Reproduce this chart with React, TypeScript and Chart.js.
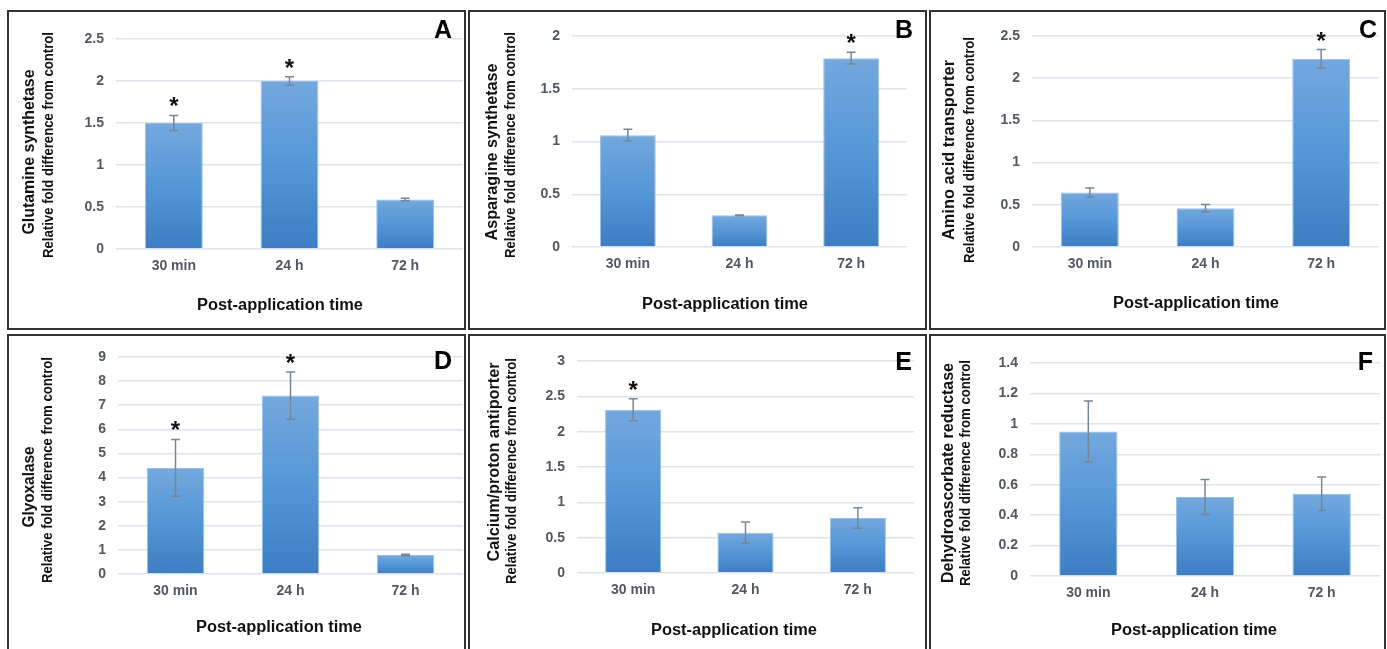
import React, { useEffect, useRef } from 'react';
import { Chart, registerables } from 'chart.js';

Chart.register(...registerables);

const FONT = '"Liberation Sans", Arial, Helvetica, sans-serif';

// ---------- data ----------
const timePoints = ['30 min', '24 h', '72 h'];

const glutamineValues = [1.5, 2.0, 0.59];
const glutamineErrors = [0.09, 0.05, 0.015];
const glutamineStars = [true, true, false];

const asparagineValues = [1.06, 0.3, 1.79];
const asparagineErrors = [0.055, 0.004, 0.055];
const asparagineStars = [false, false, true];

const aminoValues = [0.645, 0.46, 2.23];
const aminoErrors = [0.055, 0.045, 0.11];
const aminoStars = [false, false, true];

const glyoxalaseValues = [4.4, 7.4, 0.79];
const glyoxalaseErrors = [1.18, 0.98, 0.03];
const glyoxalaseStars = [true, true, false];

const calciumValues = [2.31, 0.57, 0.78];
const calciumErrors = [0.155, 0.15, 0.145];
const calciumStars = [true, false, false];

const dehydroValues = [0.95, 0.52, 0.54];
const dehydroErrors = [0.2, 0.115, 0.11];
const dehydroStars = [false, false, false];

const yTitleSub = 'Relative fold difference from control';
const xTitle = 'Post-application time';

// ---------- layout (page pixel coordinates) ----------
const layoutA = { box: { x: 7, y: 10, w: 459, h: 320 }, plot: { l: 116, r: 463, t: 39, b: 249 }, t1: { x: 30, y: 152, len: 165 }, t2: { x: 49, y: 145, len: 226 }, xt: { x: 280, y: 306 }, letter: { x: 452, y: 38 } };
const layoutB = { box: { x: 468, y: 10, w: 459, h: 320 }, plot: { l: 572, r: 907, t: 36, b: 247 }, t1: { x: 493, y: 152, len: 177 }, t2: { x: 511, y: 145, len: 226 }, xt: { x: 725, y: 305 }, letter: { x: 913, y: 38 } };
const layoutC = { box: { x: 929, y: 10, w: 457, h: 320 }, plot: { l: 1032, r: 1379, t: 36, b: 247 }, t1: { x: 950, y: 150, len: 180 }, t2: { x: 970, y: 150, len: 226 }, xt: { x: 1196, y: 304 }, letter: { x: 1377, y: 38 } };
const layoutD = { box: { x: 7, y: 334, w: 459, h: 320 }, plot: { l: 118, r: 463, t: 357, b: 574 }, t1: { x: 30, y: 487, len: 81 }, t2: { x: 48, y: 470, len: 226 }, xt: { x: 279, y: 628 }, letter: { x: 452, y: 369 } };
const layoutE = { box: { x: 468, y: 334, w: 459, h: 320 }, plot: { l: 577, r: 914, t: 361, b: 573 }, t1: { x: 495, y: 462, len: 199 }, t2: { x: 512, y: 471, len: 226 }, xt: { x: 734, y: 631 }, letter: { x: 912, y: 370 } };
const layoutF = { box: { x: 929, y: 334, w: 457, h: 320 }, plot: { l: 1030, r: 1380, t: 363, b: 576 }, t1: { x: 949, y: 473, len: 220 }, t2: { x: 966, y: 473, len: 226 }, xt: { x: 1194, y: 631 }, letter: { x: 1373, y: 370 } };

const panels = [
  { id: 'A', title: 'Glutamine synthetase', values: glutamineValues, errors: glutamineErrors, stars: glutamineStars, yMax: 2.5, yStep: 0.5, layout: layoutA },
  { id: 'B', title: 'Asparagine synthetase', values: asparagineValues, errors: asparagineErrors, stars: asparagineStars, yMax: 2, yStep: 0.5, layout: layoutB },
  { id: 'C', title: 'Amino acid transporter', values: aminoValues, errors: aminoErrors, stars: aminoStars, yMax: 2.5, yStep: 0.5, layout: layoutC },
  { id: 'D', title: 'Glyoxalase', values: glyoxalaseValues, errors: glyoxalaseErrors, stars: glyoxalaseStars, yMax: 9, yStep: 1, layout: layoutD },
  { id: 'E', title: 'Calcium/proton antiporter', values: calciumValues, errors: calciumErrors, stars: calciumStars, yMax: 3, yStep: 0.5, layout: layoutE },
  { id: 'F', title: 'Dehydroascorbate reductase', values: dehydroValues, errors: dehydroErrors, stars: dehydroStars, yMax: 1.4, yStep: 0.2, layout: layoutF },
];

function drawStretched(ctx: CanvasRenderingContext2D, text: string, font: string, cx: number, cy: number, len: number, rotate: boolean) {
  ctx.save();
  ctx.font = font;
  ctx.fillStyle = '#111111';
  ctx.textAlign = 'center';
  ctx.textBaseline = 'middle';
  const w = ctx.measureText(text).width;
  ctx.translate(cx, cy);
  if (rotate) ctx.rotate(-Math.PI / 2);
  ctx.scale(len / w, 1);
  ctx.fillText(text, 0, 0);
  ctx.restore();
}

function Panel({ p }: { p: any }) {
  const ref = useRef<HTMLCanvasElement>(null);
  const { box, plot } = p.layout;

  useEffect(() => {
    const canvas = ref.current;
    if (!canvas) return;
    const ox = box.x;
    const oy = box.y;

    const overlay = {
      id: 'overlay' + p.id,
      afterDatasetsDraw(chart: any) {
        const ctx = chart.ctx as CanvasRenderingContext2D;
        const ys = chart.scales.y;
        const meta = chart.getDatasetMeta(0);
        ctx.save();
        p.values.forEach((v: number, i: number) => {
          const el = meta.data[i];
          if (!el) return;
          const x = el.x;
          const e = p.errors[i];
          const top = ys.getPixelForValue(v + e);
          const bot = ys.getPixelForValue(v - e);
          ctx.strokeStyle = '#76869a';
          ctx.lineWidth = 1.5;
          ctx.beginPath();
          ctx.moveTo(x, top);
          ctx.lineTo(x, bot);
          ctx.moveTo(x - 4.5, top);
          ctx.lineTo(x + 4.5, top);
          ctx.moveTo(x - 4.5, bot);
          ctx.lineTo(x + 4.5, bot);
          ctx.stroke();
          if (p.stars[i]) {
            ctx.fillStyle = '#111111';
            ctx.font = `bold 24px ${FONT}`;
            ctx.textAlign = 'center';
            ctx.textBaseline = 'alphabetic';
            ctx.fillText('*', x, top - 1);
          }
        });
        ctx.restore();
      },
      afterDraw(chart: any) {
        const ctx = chart.ctx as CanvasRenderingContext2D;
        const L = p.layout;
        drawStretched(ctx, p.title, `bold 16px ${FONT}`, L.t1.x - ox, L.t1.y - oy, L.t1.len, true);
        drawStretched(ctx, yTitleSub, `bold 15px ${FONT}`, L.t2.x - ox, L.t2.y - oy, L.t2.len, true);
        drawStretched(ctx, xTitle, `bold 16px ${FONT}`, L.xt.x - ox, L.xt.y - oy, 166, false);
        ctx.save();
        ctx.font = `bold 25px ${FONT}`;
        ctx.fillStyle = '#000000';
        ctx.textAlign = 'right';
        ctx.textBaseline = 'alphabetic';
        ctx.fillText(p.id, L.letter.x - ox, L.letter.y - oy);
        ctx.restore();
      },
    };

    const chart = new Chart(canvas, {
      type: 'bar',
      data: {
        labels: timePoints,
        datasets: [
          {
            data: p.values,
            backgroundColor: (c: any) => {
              const ch = c.chart;
              const ys = ch.scales && ch.scales.y;
              const val = c.parsed ? c.parsed.y : c.raw;
              if (!ys || val == null) return '#5496d6';
              const t = ys.getPixelForValue(val);
              const b = ys.getPixelForValue(0);
              if (!isFinite(t) || !isFinite(b) || b - t < 1) return '#5496d6';
              const g = ch.ctx.createLinearGradient(0, t, 0, b);
              g.addColorStop(0, '#74a8dd');
              g.addColorStop(0.5, '#5497d7');
              g.addColorStop(1, '#3d7dc2');
              return g;
            },
            borderColor: 'rgba(140,185,232,0.9)',
            borderWidth: 1,
            barPercentage: 0.5,
            categoryPercentage: 1,
          },
        ],
      },
      options: {
        responsive: false,
        animation: false,
        events: [],
        layout: {
          padding: { left: 0, top: plot.t - oy, right: ox + box.w - plot.r, bottom: 0 },
        },
        plugins: { legend: { display: false }, tooltip: { enabled: false }, title: { display: false } },
        scales: {
          x: {
            afterFit: (s: any) => { s.height = oy + box.h - plot.b; },
            grid: { display: false, drawTicks: false },
            border: { display: false },
            ticks: { padding: 9, color: '#515865', font: { family: FONT, size: 14, weight: 'bold' } },
          },
          y: {
            min: 0,
            max: p.yMax,
            afterFit: (s: any) => { s.width = plot.l - ox; },
            grid: { color: '#dde3eb', lineWidth: 1.5, drawTicks: false },
            border: { display: false },
            ticks: {
              stepSize: p.yStep,
              padding: 12,
              color: '#515865',
              font: { family: FONT, size: 14, weight: 'bold' },
              callback: (v: any) => String(Math.round(Number(v) * 100) / 100),
            },
          },
        },
      },
      plugins: [overlay],
    } as any);
    return () => chart.destroy();
  }, []);

  return (
    <>
      <canvas
        ref={ref}
        width={box.w}
        height={box.h}
        style={{ position: 'absolute', left: box.x, top: box.y, width: box.w, height: box.h }}
      />
      <div
        style={{
          position: 'absolute',
          left: box.x,
          top: box.y,
          width: box.w,
          height: box.h,
          border: '2px solid #333333',
          boxSizing: 'border-box',
          pointerEvents: 'none',
        }}
      />
    </>
  );
}

export default function App() {
  return (
    <div
      style={{
        position: 'absolute',
        left: 0,
        top: 0,
        width: 1387,
        height: 649,
        overflow: 'hidden',
        background: '#ffffff',
      }}
    >
      {panels.map((p) => (
        <Panel key={p.id} p={p} />
      ))}
    </div>
  );
}
